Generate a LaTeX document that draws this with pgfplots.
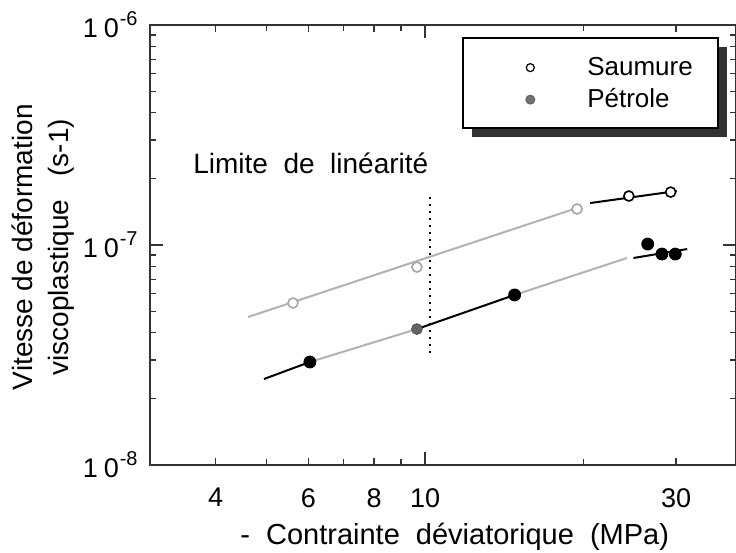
\documentclass[border=0pt]{standalone}
\usepackage{fontspec}
\setmainfont{Liberation Sans}
\usepackage{pgfplots}
\pgfplotsset{compat=1.18}

\newcommand{\tenpow}[1]{1\kern3pt0\kern0.5pt\raisebox{6pt}{\fontsize{10}{10}\selectfont #1}}

\begin{document}
\begin{tikzpicture}
\path[use as bounding box] (-75pt,-44pt) rectangle (293pt,232.5pt);
\begin{axis}[
  at={(0pt,0pt)}, anchor=south west,
  scale only axis, width=293pt, height=220pt,
  xmode=log, ymode=log,
  xmin=3, xmax=39, ymin=1e-8, ymax=1e-6,
  axis line style={black!80, line width=0.9pt},
  tick style={black!80, line width=0.6pt},
  tick align=inside,
  major tick length=6.5pt, minor tick length=3pt,
  xtick={10}, xticklabels={10},
  extra x ticks={4,6,8,30}, extra x tick labels={4,6,8,30},
  extra x tick style={major tick length=3.5pt},
  minor xtick={5,7,9,20},
  ytick={1e-8,1e-7,1e-6},
  yticklabels={\tenpow{-8},\tenpow{-7},\tenpow{-6}},
  minor ytick={2e-8,3e-8,4e-8,5e-8,6e-8,7e-8,8e-8,9e-8,2e-7,3e-7,4e-7,5e-7,6e-7,7e-7,8e-7,9e-7},
  ticklabel style={font=\fontsize{13.5}{15}\selectfont, inner sep=0pt},
  xticklabel style={anchor=north, yshift=-11.5pt},
  yticklabel style={anchor=east, xshift=-6pt},
  /pgf/number format/assume math mode=true,
  xlabel={-\ \ Contrainte\ \ déviatorique\ \ (MPa)},
  xlabel style={at={(rel axis cs:0.52,0)}, anchor=north, yshift=-29pt, inner sep=0pt,
    font=\fontsize{14.5}{17}\selectfont},
  ylabel={Vitesse de déformation\\viscoplastique\ \ \ (s-1)},
  ylabel style={at={(rel axis cs:-0.128,0.495)}, anchor=south,
    inner sep=0pt, align=center, font=\fontsize{14}{18}\selectfont},
  legend style={at={(rel axis cs:0.534,0.970)}, anchor=north west,
    draw=none, fill=none,
    inner xsep=0pt, inner ysep=6.5pt, row sep=0pt,
    nodes={inner sep=0pt},
    font=\fontsize{13}{15}\selectfont},
  legend cell align=left,
]
% legend box with solid shadow
\fill[black!80] (rel axis cs:0.5494,0.7455) rectangle (rel axis cs:0.9844,0.9500);
\draw[black, line width=1pt, fill=white] (rel axis cs:0.534,0.766) rectangle (rel axis cs:0.969,0.9705);
% Saumure lines
\addplot[gray!60, line width=1pt, forget plot] coordinates {(4.61,4.71e-8) (19.7,1.488e-7)};
\addplot[black, line width=1pt, forget plot] coordinates {(20.6,1.552e-7) (30.1,1.76e-7)};
% Petrole lines
\addplot[black, line width=1pt, forget plot] coordinates {(4.94,2.46e-8) (6.04,2.94e-8)};
\addplot[gray!60, line width=1pt, forget plot] coordinates {(6.04,2.94e-8) (9.65,4.15e-8)};
\addplot[black, line width=1pt, forget plot] coordinates {(9.65,4.15e-8) (14.8,5.93e-8)};
\addplot[gray!60, line width=1pt, forget plot] coordinates {(14.8,5.93e-8) (24.2,8.73e-8)};
\addplot[black, line width=1pt, forget plot] coordinates {(24.9,8.73e-8) (31.5,9.59e-8)};
% dotted limit
\addplot[black, line width=1pt, dash pattern=on 1pt off 2.5pt, forget plot] coordinates {(10.2,1.65e-7) (10.2,3.06e-8)};
% Saumure markers
\addplot[only marks, mark=*, mark size=2.5pt, mark options={draw=gray!70, fill=white, line width=0.8pt}, forget plot]
  coordinates {(5.61,5.45e-8) (9.65,7.94e-8) (19.45,1.458e-7)};
\addplot[only marks, mark=*, mark size=2.5pt, mark options={draw=black, fill=white, line width=0.8pt}, forget plot]
  coordinates {(24.4,1.67e-7) (29.3,1.74e-7)};
% Petrole markers
\addplot[only marks, mark=*, mark size=3pt, mark options={draw=black, fill=black}, forget plot]
  coordinates {(6.04,2.94e-8) (14.8,5.93e-8) (26.5,1.01e-7) (28.2,9.1e-8) (29.9,9.1e-8)};
\addplot[only marks, mark=*, mark size=2.7pt, mark options={draw=black!70, fill=black!60}, forget plot]
  coordinates {(9.65,4.15e-8)};
% legend
\addlegendimage{legend image code/.code={\path[draw=none, fill=none] (0pt,-8pt) rectangle (62pt,8pt); \draw[black, fill=white, line width=0.6pt] (33.5pt,0pt) circle (2pt);}}
\addlegendentry{Saumure}
\addlegendimage{legend image code/.code={\path[draw=none, fill=none] (0pt,-8pt) rectangle (62pt,8pt); \draw[black!60, fill=black!55, line width=0.6pt] (33.5pt,0pt) circle (2.2pt);}}
\addlegendentry{Pétrole}
\node[anchor=west, inner sep=0pt, font=\fontsize{14}{16}\selectfont] at (axis cs:3.62,2.36e-7) {Limite\ \ de\ \ linéarité};
\end{axis}
\end{tikzpicture}
\end{document}
